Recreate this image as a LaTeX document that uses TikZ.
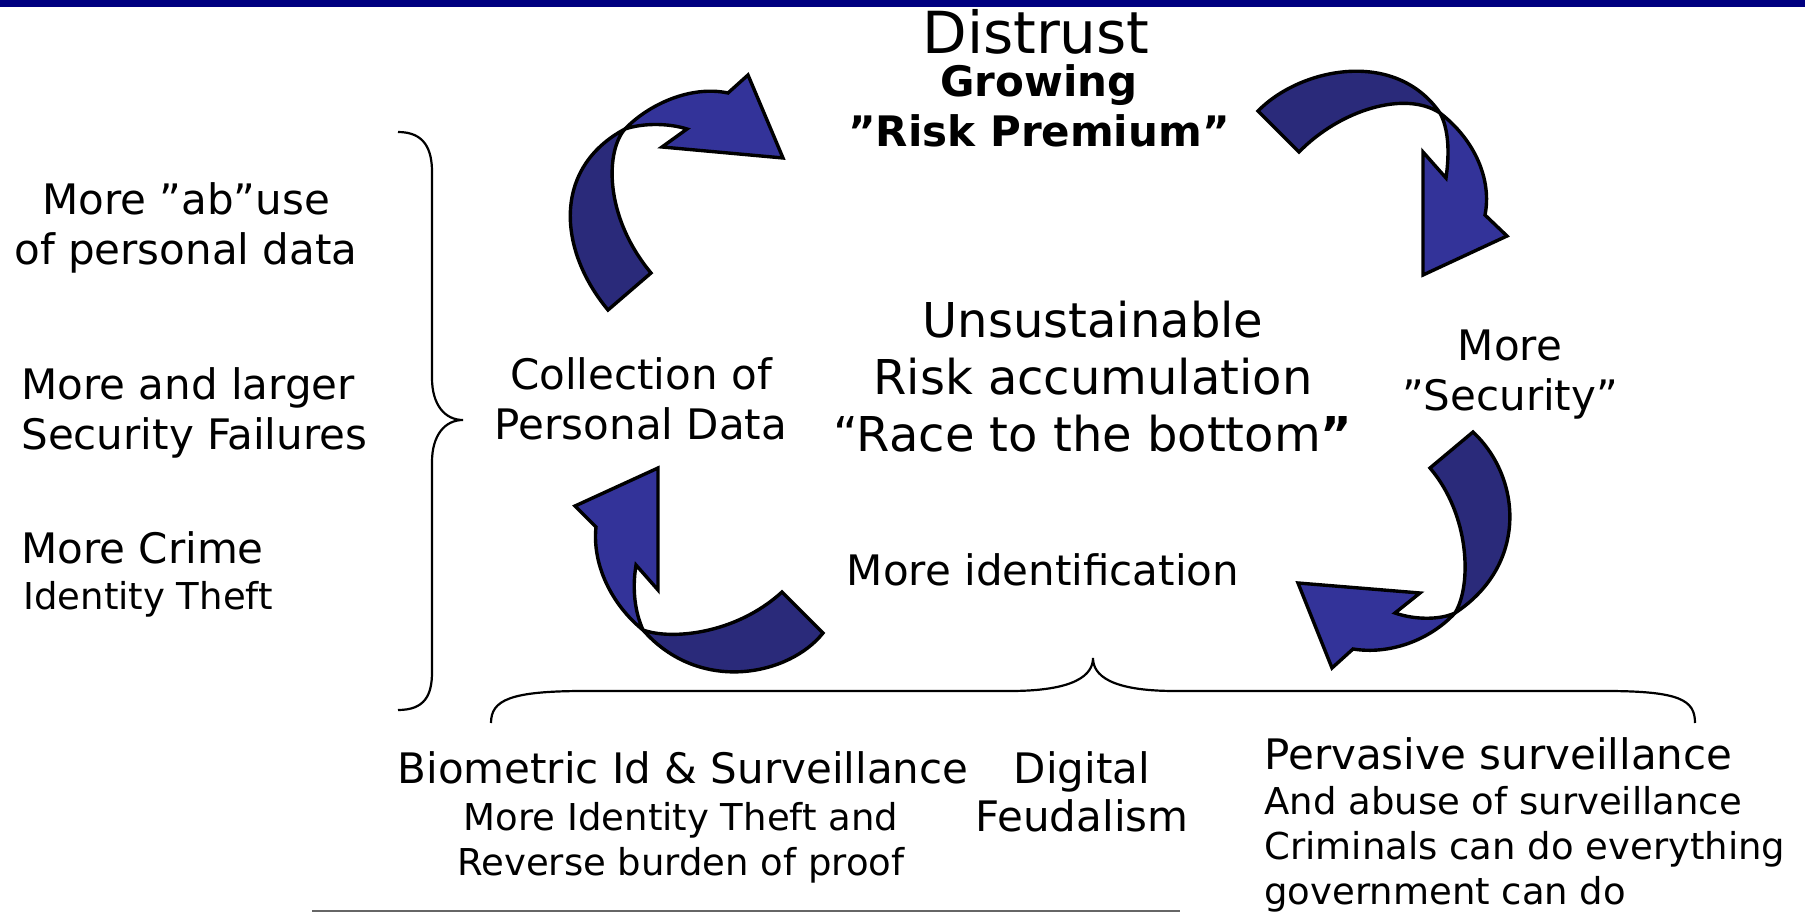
\documentclass[tikz,border=0pt]{standalone}
\usepackage{fontspec}
\setmainfont{DejaVu Sans}
\definecolor{arrowblue}{RGB}{51,51,153}
\definecolor{arrowdark}{RGB}{42,42,122}
\definecolor{barnavy}{RGB}{0,0,128}
\begin{document}
\begin{tikzpicture}[x=0.5pt, y=-0.5pt,
    txt/.style={font=\fontsize{21}{25.3}\selectfont, align=center, inner sep=0pt},
    smalltxt/.style={font=\fontsize{18.5}{22.5}\selectfont, align=left, inner sep=0pt},
    tailpart/.style={draw, line width=1.7pt, fill=arrowdark},
    headpart/.style={draw, line width=1.7pt, fill=arrowblue},
    brace/.style={draw, line width=1.1pt}]
    \useasboundingbox (0,0) rectangle (1805,914);
    \fill[barnavy] (0,0) rectangle (1805,7);

    % top and middle (base = last line)
    \node[txt, font=\fontsize{29}{34}\selectfont, anchor=base] (distrust) at (1036,54) {Distrust};
    \node[txt, font=\fontsize{21}{25}\selectfont\bfseries, anchor=base] (premium) at (1039,147) {Growing\\”Risk Premium”};
    \node[txt, font=\fontsize{24}{28.75}\selectfont, anchor=base] (race) at (1093,452) {Unsustainable\\Risk accumulation\\“Race to the bottom{\bfseries ”}};
    \node[txt, anchor=base] (collect) at (641,440) {Collection of\\Personal Data};
    \node[txt, anchor=base] (security) at (1510,411) {More\\”Security”};
    \node[txt, anchor=base] (ident) at (1043,585) {More identification};

    % left column
    \node[txt, anchor=base] (abuse) at (186,265) {More ”ab”use\\of personal data};
    \node[txt, align=left, anchor=base west] (failures) at (21,450) {More and larger\\Security Failures};
    \node[txt, anchor=base west] (crime) at (21,563) {More Crime};
    \node[smalltxt, anchor=base west] (theft) at (23,610) {Identity Theft};

    % bottom row
    \node[txt, anchor=base] (biometric) at (683,783) {Biometric Id \& Surveillance};
    \node[smalltxt, align=center, anchor=base] (burden) at (681,875) {More Identity Theft and\\Reverse burden of proof};
    \node[txt, font=\fontsize{21}{24}\selectfont, anchor=base] (feudal) at (1082,831) {Digital\\Feudalism};
    \node[txt, anchor=base west] (pervasive) at (1264,769) {Pervasive surveillance};
    \node[smalltxt, anchor=base west] (crimgov) at (1264,904) {And abuse of surveillance\\Criminals can do everything\\government can do};

    % cycle arrows
    \path[tailpart] (608,310) .. controls (558,250) and (552,168) .. (625,129)
        .. controls (606,150) and (603,215) .. (651,273) -- cycle;
    \path[headpart] (625,129) .. controls (648,105) and (690,85) .. (728,93) -- (748,75) -- (783,158)
        -- (662,147) -- (687,129) .. controls (668,123) and (643,123) .. (625,129) -- cycle;

    \path[tailpart] (1258,111) .. controls (1300,68) and (1395,48) .. (1440,113)
        .. controls (1405,90) and (1340,110) .. (1299,152) -- cycle;
    \path[headpart] (1440,113) .. controls (1475,140) and (1492,180) .. (1485,215) -- (1507,236) -- (1423,275)
        -- (1423,152) -- (1446,178) .. controls (1450,150) and (1448,128) .. (1440,113) -- cycle;

    \path[tailpart] (1430,468) -- (1473,432) .. controls (1522,478) and (1528,565) .. (1455,613)
        .. controls (1472,585) and (1470,515) .. (1430,468) -- cycle;
    \path[headpart] (1455,613) .. controls (1430,640) and (1390,655) .. (1353,649) -- (1332,668) -- (1298,583)
        -- (1420,593) -- (1395,613) .. controls (1415,620) and (1440,620) .. (1455,613) -- cycle;

    \path[tailpart] (782,592) -- (823,633) .. controls (790,675) and (700,695) .. (643,630)
        .. controls (670,640) and (735,635) .. (782,592) -- cycle;
    \path[headpart] (643,630) .. controls (612,605) and (592,565) .. (596,527) -- (575,506) -- (658,468)
        -- (658,590) -- (636,565) .. controls (632,590) and (635,612) .. (643,630) -- cycle;

    % braces
    \path[brace] (398,132) .. controls (425,132) and (432,150) .. (432,172) -- (432,378)
        .. controls (432,405) and (445,420) .. (463,420) .. controls (445,420) and (432,435) .. (432,462)
        -- (432,672) .. controls (432,695) and (425,710) .. (398,710);
    \path[brace] (491,723) .. controls (491,700) and (510,691) .. (585,691) -- (1010,691)
        .. controls (1075,691) and (1093,675) .. (1093,658) .. controls (1093,675) and (1110,691) .. (1175,691)
        -- (1605,691) .. controls (1680,691) and (1695,700) .. (1695,723);

    \draw[line width=1pt, black!60] (312,911) -- (1180,911);
\end{tikzpicture}
\end{document}
